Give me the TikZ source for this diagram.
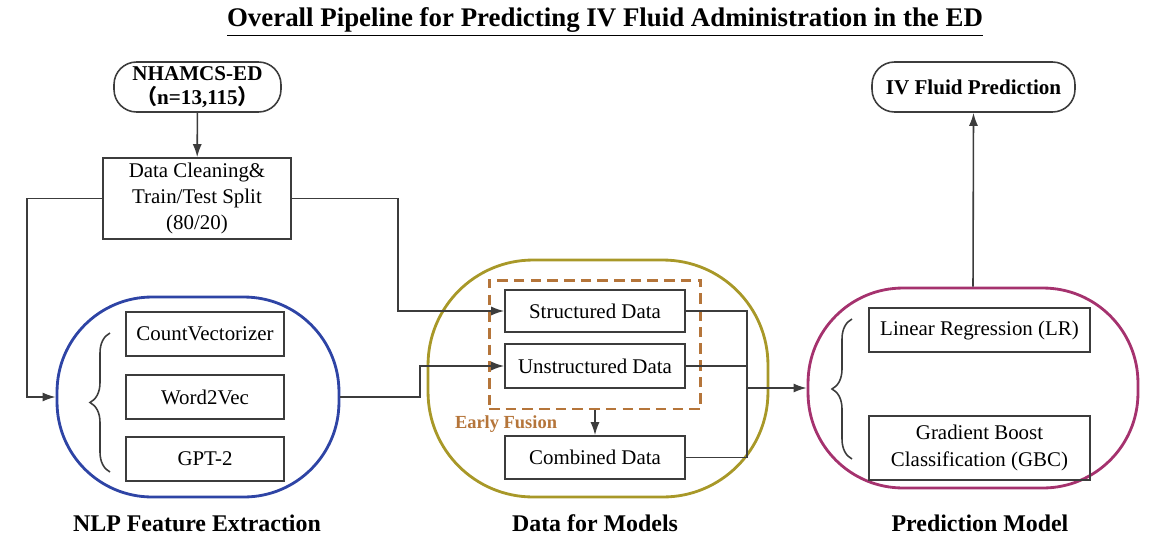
\documentclass[tikz,border=0pt]{standalone}
\usepackage{fontspec}
\setmainfont{Liberation Serif}
\newfontfamily\cjk{Noto Sans CJK SC}
\usetikzlibrary{arrows.meta,decorations.pathreplacing}

\definecolor{linegray}{RGB}{60,60,60}
\definecolor{nlpblue}{RGB}{46,68,165}
\definecolor{dataolive}{RGB}{168,152,40}
\definecolor{fusionbrown}{RGB}{181,117,58}
\definecolor{predpink}{RGB}{165,50,110}

\tikzset{
  box/.style={draw=linegray, line width=0.9pt, inner sep=0pt, align=center,
    font=\fontsize{11.9}{14.8}\selectfont},
  endbox/.style={box, rounded corners=0.45cm, font=\bfseries\fontsize{12}{14}\selectfont},
  group/.style={draw, line width=1.6pt, inner sep=0pt},
  grouplabel/.style={font=\bfseries\fontsize{13.6}{16}\selectfont},
  conn/.style={draw=linegray, line width=0.9pt, -{Latex[length=2.6mm,width=1.8mm]}},
  line/.style={draw=linegray, line width=0.9pt},
  curly/.style={draw=linegray, line width=0.9pt, decorate, decoration={brace, amplitude=0.4cm}}
}

\begin{document}
\begin{tikzpicture}[x=0.02cm,y=-0.02cm]
  \useasboundingbox (0,0) rectangle (1155,551);

  \node[font=\bfseries\fontsize{15.3}{18}\selectfont] (title) at (605,22)
    {\underline{Overall Pipeline for Predicting IV Fluid Administration in the ED}};

  % groups
  \node[group, draw=nlpblue, minimum width=5.64cm, minimum height=4cm, rounded corners=1.9cm] (nlp) at (198,397) {};
  \node[group, draw=dataolive, minimum width=6.8cm, minimum height=4.74cm, rounded corners=2.1cm] (data) at (598,378.5) {};
  \node[group, draw=predpink, minimum width=6.6cm, minimum height=4cm, rounded corners=1.9cm] (pred) at (973,388) {};
  \node[draw=fusionbrown, line width=1.7pt, dash pattern=on 6pt off 3.5pt, minimum width=4.24cm, minimum height=2.58cm] (fusion) at (595,344.5) {};

  \node[endbox, minimum width=3.34cm, minimum height=1cm] (nhamcs) at (197.5,87)
    {NHAMCS-ED\\{\cjk （}n=13,115{\cjk ）}};
  \node[box, minimum width=3.76cm, minimum height=1.62cm] (clean) at (197,198.5)
    {Data Cleaning\&\\Train/Test Split\\(80/20)};
  \node[endbox, minimum width=4.06cm, minimum height=1cm] (ivf) at (973.5,87) {IV Fluid Prediction};

  \node[box, minimum width=3.16cm, minimum height=0.88cm] (countvec) at (205,334) {CountVectorizer};
  \node[box, minimum width=3.16cm, minimum height=0.88cm] (w2v) at (205,397) {Word2Vec};
  \node[box, minimum width=3.16cm, minimum height=0.88cm] (gpt) at (205,459) {GPT-2};

  \node[box, minimum width=3.6cm, minimum height=0.84cm] (struct) at (595,311) {Structured Data};
  \node[box, minimum width=3.6cm, minimum height=0.88cm] (unstruct) at (595,366) {Unstructured Data};
  \node[box, minimum width=3.6cm, minimum height=0.86cm] (comb) at (595,457.5) {Combined Data};
  \node[font=\bfseries\fontsize{10.5}{12}\selectfont, text=fusionbrown] (early) at (506,424) {Early Fusion};

  \node[box, minimum width=4.42cm, minimum height=0.88cm] (lr) at (979.5,330) {Linear Regression (LR)};
  \node[box, minimum width=4.42cm, minimum height=1.28cm, font=\fontsize{11.9}{15.3}\selectfont] (gbc) at (979.5,448) {Gradient Boost\\Classification (GBC)};

  \draw[curly] (110,472) -- (110,333);
  \draw[curly] (852,459) -- (852,319);

  \node[grouplabel] (nlplabel) at (197,523) {NLP Feature Extraction};
  \node[grouplabel] (datalabel) at (595,523) {Data for Models};
  \node[grouplabel] (predlabel) at (980,523) {Prediction Model};

  % connectors
  \coordinate (lturn) at (27,198.5);
  \coordinate (rturn) at (398,198.5);
  \coordinate (uturn) at (420,397);
  \coordinate (merge) at (747,388);
  \draw[conn] (nhamcs) -- (clean);
  \draw[conn] (clean.west) -- (lturn) |- (nlp.west);
  \draw[conn] (clean.east) -- (rturn) |- (struct.west);
  \draw[conn] (nlp.east) -- (uturn) |- (unstruct.west);
  \draw[conn] (fusion.south) -- (comb.north);
  \draw[line] (struct.east) -| (merge);
  \draw[line] (unstruct.east) -| (merge);
  \draw[line] (comb.east) -| (merge);
  \draw[conn] (merge) -- (pred.west);
  \draw[conn] (pred.north) -- (ivf.south);
\end{tikzpicture}
\end{document}
